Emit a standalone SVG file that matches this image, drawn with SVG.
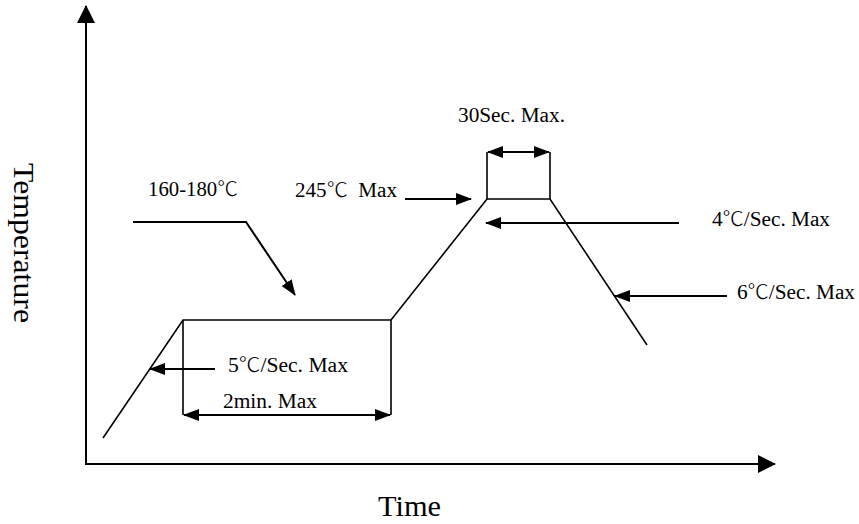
<svg xmlns="http://www.w3.org/2000/svg" width="859" height="524" viewBox="0 0 859 524">
<defs>
<marker id="ah" viewBox="0 0 16 12" refX="15" refY="6" markerWidth="16" markerHeight="12" markerUnits="userSpaceOnUse" orient="auto-start-reverse">
<path d="M0,0 L16,6 L0,12 Z" fill="#000"/>
</marker>
<marker id="ax" viewBox="0 0 18 18" refX="17" refY="9" markerWidth="18" markerHeight="18" markerUnits="userSpaceOnUse" orient="auto">
<path d="M0,0 L18,9 L0,18 Z" fill="#000"/>
</marker>
</defs>
<style>
text{font-family:"Liberation Serif","Times New Roman","Noto Sans CJK SC",serif;fill:#000;}
.c{font-family:"Noto Sans CJK SC","Noto Sans CJK JP",sans-serif;font-weight:300;}
.lbl{font-size:20px;}
.ttl{font-size:29px;}
.prof{fill:none;stroke:#000;stroke-width:1.6;}
.arr{fill:none;stroke:#000;stroke-width:2;}
.axis{fill:none;stroke:#000;stroke-width:2;}
</style>
<rect width="859" height="524" fill="#fff"/>
<g id="axes">
<line class="axis" x1="86" y1="465" x2="86" y2="6" marker-end="url(#ax)"/>
<line class="axis" x1="86" y1="464" x2="775" y2="464" marker-end="url(#ax)"/>
<text class="ttl" x="378" y="516" textLength="63" lengthAdjust="spacingAndGlyphs">Time</text>
<text class="ttl" transform="translate(14,163) rotate(90)" textLength="160" lengthAdjust="spacingAndGlyphs">Temperature</text>
</g>
<g id="profile">
<polyline class="prof" points="103,438 183,320 391,320 487,199 550,199 647,345"/>
<line class="prof" x1="183" y1="320" x2="183" y2="415"/>
<line class="prof" x1="391" y1="320" x2="391" y2="415"/>
<line class="prof" x1="487" y1="199" x2="487" y2="152"/>
<line class="prof" x1="550" y1="199" x2="550" y2="152"/>
</g>
<g id="connectors">
<line class="arr" x1="184" y1="415" x2="390" y2="415" marker-start="url(#ah)" marker-end="url(#ah)"/>
<line class="arr" x1="488" y1="152" x2="549" y2="152" marker-start="url(#ah)" marker-end="url(#ah)"/>
<polyline class="arr" points="133,222 246,222 295,295" marker-end="url(#ah)"/>
<line class="arr" x1="405" y1="199" x2="471" y2="199" marker-end="url(#ah)"/>
<line class="arr" x1="679" y1="223" x2="486" y2="223" marker-end="url(#ah)"/>
<line class="arr" x1="727" y1="296" x2="615" y2="296" marker-end="url(#ah)"/>
<line class="arr" x1="215" y1="369" x2="150" y2="369" marker-end="url(#ah)"/>
</g>
<g id="labels">
<text class="lbl" x="458" y="122" textLength="107" lengthAdjust="spacingAndGlyphs">30Sec. Max.</text>
<text class="lbl" x="148" y="196" textLength="90" lengthAdjust="spacingAndGlyphs">160-180<tspan class="c">℃</tspan></text>
<text class="lbl" x="295" y="197" xml:space="preserve" textLength="102" lengthAdjust="spacingAndGlyphs">245<tspan class="c">℃</tspan>  Max</text>
<text class="lbl" x="712" y="226" textLength="118" lengthAdjust="spacingAndGlyphs">4<tspan class="c">℃</tspan>/Sec. Max</text>
<text class="lbl" x="737" y="299" textLength="118" lengthAdjust="spacingAndGlyphs">6<tspan class="c">℃</tspan>/Sec. Max</text>
<text class="lbl" x="228" y="372" textLength="120" lengthAdjust="spacingAndGlyphs">5<tspan class="c">℃</tspan>/Sec. Max</text>
<text class="lbl" x="223" y="408" textLength="94" lengthAdjust="spacingAndGlyphs">2min. Max</text>
</g>
</svg>
